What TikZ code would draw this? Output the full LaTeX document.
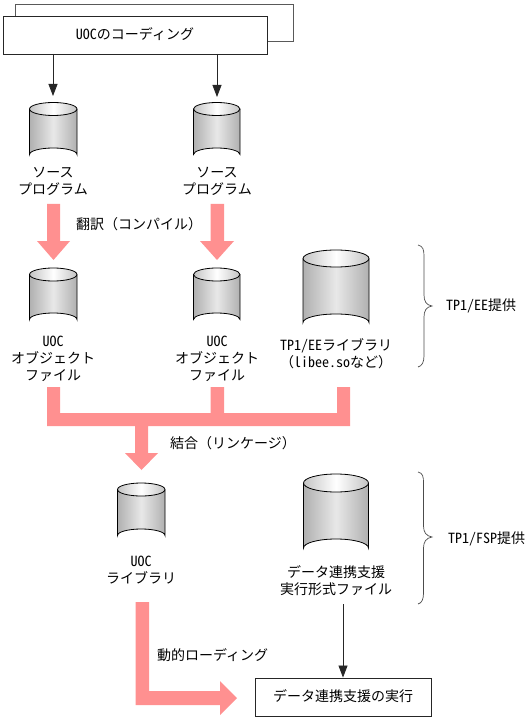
\documentclass[tikz,border=0pt]{standalone}
\usepackage{fontspec}
\setmainfont[RawFeature=+hwid]{Noto Sans CJK JP}
\newfontfamily\fullw{Noto Sans CJK JP}
\newcommand{\lp}{{\fullw （}}
\newcommand{\rp}{{\fullw ）}}
\usetikzlibrary{arrows.meta}
\definecolor{pk}{HTML}{FF9090}
\definecolor{cg}{HTML}{B0B0B0}
\definecolor{cm}{HTML}{E8E8E8}
\definecolor{ce}{HTML}{C4C4C4}
\tikzset{
 lbl/.style={align=center,font=\fontsize{14}{17}\selectfont,inner sep=0pt},
 box/.style={draw=black!85,fill=white,line width=0.9pt,inner sep=0pt},
 thin arrow/.style={draw=black!85,line width=0.8pt,-{Triangle[length=12pt,width=9pt]}},
 pink/.style={fill=pk,draw=none},
 brace/.style={draw=black!70,line width=0.7pt},
}
\newcommand{\cyl}[5]{% left right top ry bottom
 \path[left color=cg,right color=cg,middle color=cm]
   (#1,#3+#4) -- (#1,#5-#4) arc[start angle=180,end angle=360,x radius={(#2-#1)/2},y radius=#4] -- (#2,#3+#4) -- cycle;
 \path[left color=ce,right color=ce,middle color=white]
   (#1,#3+#4) arc[start angle=180,end angle=-180,x radius={(#2-#1)/2},y radius=#4];
 \draw[black,line width=0.8pt] (#1,#3+#4) -- (#1,#5-#4) arc[start angle=180,end angle=360,x radius={(#2-#1)/2},y radius=#4] -- (#2,#3+#4);
 \draw[black,line width=0.8pt] (#1,#3+#4) arc[start angle=180,end angle=-180,x radius={(#2-#1)/2},y radius=#4];
}
\begin{document}
\begin{tikzpicture}[x=1pt,y=-1pt]
\useasboundingbox (0,0) rectangle (529,719);
% stacked box
\draw[draw=black!65,line width=0.9pt] (15,16) -- (15,4) -- (293,4) -- (293,41) -- (267,41);
\node[box,minimum width=264pt,minimum height=38pt] (code) at (135,35) {};
\node[lbl] (codet) at (135,34) {UOCのコーディング};
% cylinders
\cyl{29.5}{77}{102.5}{6.5}{161}
\cyl{193.5}{240}{102.5}{6.5}{161}
\cyl{29.5}{77}{268}{6.5}{326}
\cyl{193.5}{240}{268}{6.5}{326}
\cyl{303}{369}{250}{8.5}{331}
\cyl{117.5}{165}{483}{6.5}{542}
\cyl{303.5}{368.5}{474}{9}{557}
\coordinate (s1) at (53,96);
\coordinate (s2) at (217,97);
\draw[thin arrow] (53,54) -- (s1);
\draw[thin arrow] (217,54) -- (s2);
% labels
\node[lbl] (l1) at (53,181.5) {ソース\\プログラム};
\node[lbl] (l2) at (217,181.5) {ソース\\プログラム};
\node[lbl] (l3) at (53,359) {UOC\\オブジェクト\\ファイル};
\node[lbl] (l4) at (217,359) {UOC\\オブジェクト\\ファイル};
\node[lbl] (l5) at (336,354) {TP1/EEライブラリ\\\lp libee.soなど\rp};
\node[lbl] (l6) at (141,570) {UOC\\ライブラリ};
\node[lbl] (l7) at (336,581) {データ連携支援\\実行形式ファイル};
\node[lbl,anchor=west] (t1) at (76,224) {翻訳\lp コンパイル\rp};
\node[lbl,anchor=west] (t2) at (170,443) {結合\lp リンケージ\rp};
\node[lbl,anchor=west] (t3) at (157,655) {動的ローディング};
\node[lbl,anchor=west] (t4) at (446,305.5) {TP1/EE提供};
\node[lbl,anchor=west] (t5) at (448,538.5) {TP1/FSP提供};
% pink arrows
\fill[pink] (47,204) -- (60,204) -- (60,241) -- (70,241) -- (53.5,260) -- (37,241) -- (47,241) -- cycle;
\fill[pink] (210.5,204) -- (224,204) -- (224,241) -- (234,241) -- (217,260) -- (200,241) -- (210.5,241) -- cycle;
\fill[pink] (47,387) -- (60,387) -- (60,413) -- (210.5,413) -- (210.5,387) -- (224,387) -- (224,413) -- (337,413) -- (337,387) -- (350,387) -- (350,426) -- (148,426) -- (148,453) -- (158,453) -- (141.5,470) -- (125,453) -- (135,453) -- (135,426) -- (47,426) -- cycle;
\fill[pink] (135.5,602) -- (149,602) -- (149,691) -- (220,691) -- (220,681) -- (237,698) -- (220,715) -- (220,705) -- (135.5,705) -- cycle;
% run box
\node[box,minimum width=176pt,minimum height=38pt] (run) at (343,697) {};
\node[lbl] (runt) at (343,696) {データ連携支援の実行};
\coordinate (r0) at (343,604);
\draw[thin arrow] (r0) -- (run.north -| r0);
% braces
\draw[brace] (418,245) .. controls (423,246) and (424,250) .. (424,256) -- (424,295) .. controls (424,301) and (426,305) .. (432,306) .. controls (426,307) and (424,311) .. (424,317) -- (424,356) .. controls (424,362) and (422,366) .. (418,367);
\draw[brace] (418,472) .. controls (423,473) and (423.5,477) .. (423.5,483) -- (423.5,526) .. controls (423.5,532) and (426,536) .. (432,537) .. controls (426,538) and (423.5,542) .. (423.5,548) -- (423.5,593) .. controls (423.5,599) and (422,603) .. (418,604);
\end{tikzpicture}
\end{document}
